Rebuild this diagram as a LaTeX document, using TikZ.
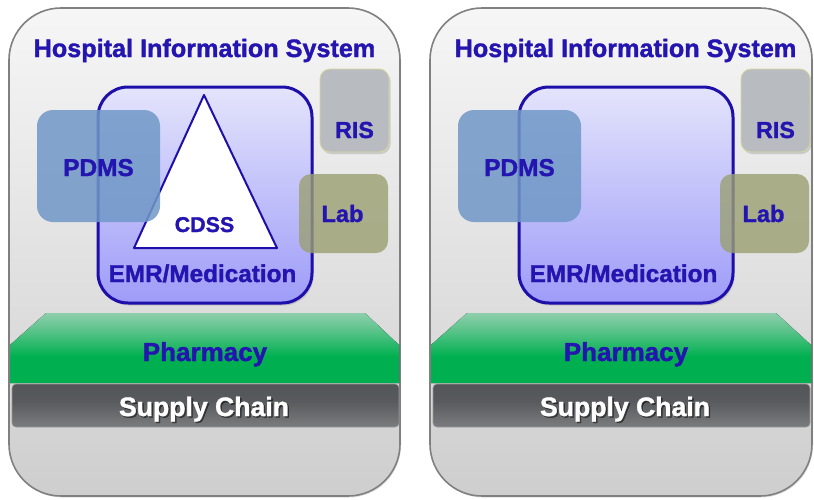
\documentclass[tikz,border=0pt]{standalone}
\usepackage{fontspec}
\setmainfont{Liberation Sans}[BoldFeatures={FakeBold=1.4}]
\usetikzlibrary{shadows}
\definecolor{txtblue}{RGB}{36,20,176}
\definecolor{emrborder}{RGB}{30,14,170}
\definecolor{emrtop}{RGB}{228,228,252}
\definecolor{emrbot}{RGB}{158,156,248}
\definecolor{pdmsfill}{RGB}{112,152,199}
\definecolor{risfill}{RGB}{184,188,192}
\definecolor{risborder}{RGB}{214,214,160}
\definecolor{labfill}{RGB}{154,160,114}
\definecolor{phgreen}{RGB}{0,176,80}
\definecolor{phlight}{RGB}{218,222,220}
\definecolor{paneltop}{RGB}{246,246,246}
\definecolor{panelbot}{RGB}{206,206,206}
\definecolor{panelborder}{RGB}{128,128,128}
\definecolor{scA}{RGB}{182,182,182}
\definecolor{scB}{RGB}{122,124,126}
\definecolor{scC}{RGB}{88,90,93}
\definecolor{scD}{RGB}{80,83,86}
\definecolor{scE}{RGB}{150,150,150}
\pgfdeclareverticalshading{pharmshade}{100bp}{color(0bp)=(phgreen); color(44bp)=(phgreen); color(62bp)=(phgreen!60!phlight); color(85bp)=(phgreen!15!phlight); color(100bp)=(phlight)}
\pgfdeclareverticalshading{supplyshade}{100bp}{color(0bp)=(scA); color(25bp)=(scB); color(55bp)=(scC); color(85bp)=(scD); color(93bp)=(scD); color(100bp)=(scE)}
\tikzset{
  lbl/.style={font=\bfseries\fontsize{#1}{#1}\selectfont, text=txtblue, anchor=base, inner sep=0pt},
  panel/.style={draw=panelborder, line width=1.6pt, rounded corners=52pt, top color=paneltop, bottom color=panelbot,
     drop shadow={opacity=0.25, shadow xshift=1pt, shadow yshift=-1.5pt}},
  emr/.style={draw=emrborder, line width=3pt, rounded corners=30pt, top color=emrtop, bottom color=emrbot,
     drop shadow={opacity=0.3, shadow xshift=1.5pt, shadow yshift=-2.5pt}},
  pdms/.style={fill=pdmsfill, fill opacity=0.85, rounded corners=16pt},
  ris/.style={fill=risfill, draw=risborder, line width=0.8pt, rounded corners=10pt,
     drop shadow={opacity=0.3, shadow xshift=1.5pt, shadow yshift=-2pt}},
  lab/.style={fill=labfill, fill opacity=0.8, rounded corners=12pt},
  pharm/.style={shading=pharmshade},
  supply/.style={shading=supplyshade, draw=scE, line width=0.6pt, rounded corners=4pt},
  cdss/.style={draw=emrborder, line width=2pt, fill=white, line join=round},
}
\newcommand\hisboxes[1]{%
  \fill[pdms] (37,110) rectangle (160,222);
  \fill[ris] (320,69) rectangle (389,152);
  \fill[lab] (299,174) rectangle (388,253);
  \node[lbl=25.2] (#1title) at (204.5,57) {Hospital Information System};
  \node[lbl=24.4] (#1pdms) at (98.5,176) {PDMS};
  \node[lbl=23.2] (#1ris) at (354.5,138) {RIS};
  \node[lbl=23.6] (#1lab) at (342.5,222) {Lab};
  \node[lbl=24.3] (#1emr) at (202.5,282) {EMR/Medication};
}
\begin{document}
\begin{tikzpicture}[x=1pt,y=-1pt]
\useasboundingbox (0,0) rectangle (814,499);
% ---------- left panel ----------
\draw[panel] (9,8) rectangle (400,496);
\draw[emr] (98,87) rectangle (312,303);
\draw[cdss] (204,95) -- (277,248) -- (134,248) -- cycle;
\hisboxes{L}
\node[lbl=21.4] (Lcdss) at (204.5,232) {CDSS};
\fill[pharm] (10,345) -- (46,313) -- (365,313) -- (399,345) -- (399,383) -- (10,383) -- cycle;
\node[lbl=26] (Lpharm) at (205,361) {Pharmacy};
\draw[supply] (12,384) rectangle (399,427);
\node[lbl=26.6, text=black, text opacity=0.45] at (205.5,417.5) {Supply Chain};
\node[lbl=26.6, text=white] (Lsupply) at (204,416) {Supply Chain};
% ---------- right panel ----------
\draw[panel] (430,8) rectangle (812,496);
\begin{scope}[xshift=421pt]
\draw[emr] (98,87) rectangle (312,303);
\hisboxes{R}
\end{scope}
\fill[pharm] (431,345) -- (467,313) -- (776,313) -- (811,345) -- (811,383) -- (431,383) -- cycle;
\node[lbl=26] (Rpharm) at (626,361) {Pharmacy};
\draw[supply] (433,384) rectangle (810,427);
\node[lbl=26.6, text=black, text opacity=0.45] at (626.5,417.5) {Supply Chain};
\node[lbl=26.6, text=white] (Rsupply) at (625,416) {Supply Chain};
\end{tikzpicture}
\end{document}
